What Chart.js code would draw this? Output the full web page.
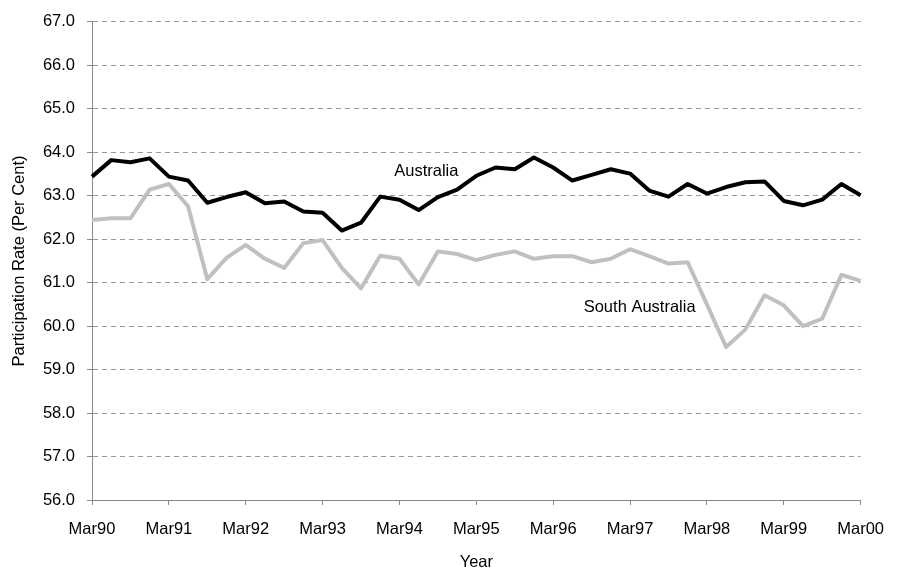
<!DOCTYPE html>
<html>
<head>
<meta charset="utf-8">
<title>Participation Rate</title>
<script src="https://cdn.jsdelivr.net/npm/chart.js@4/dist/chart.umd.min.js"></script>
<style>
  body { margin: 0; background: #fff; }
  canvas { display: block; }
</style>
</head>
<body>
<canvas id="grafica" width="899" height="572"></canvas>
<script>
// ==========================================
// DATA
// ==========================================
const quarters = [
    'Mar90', 'Jun90', 'Sep90', 'Dec90',
    'Mar91', 'Jun91', 'Sep91', 'Dec91',
    'Mar92', 'Jun92', 'Sep92', 'Dec92',
    'Mar93', 'Jun93', 'Sep93', 'Dec93',
    'Mar94', 'Jun94', 'Sep94', 'Dec94',
    'Mar95', 'Jun95', 'Sep95', 'Dec95',
    'Mar96', 'Jun96', 'Sep96', 'Dec96',
    'Mar97', 'Jun97', 'Sep97', 'Dec97',
    'Mar98', 'Jun98', 'Sep98', 'Dec98',
    'Mar99', 'Jun99', 'Sep99', 'Dec99',
    'Mar00'
];

const australia = [
    63.44, 63.82, 63.77, 63.86, 63.44, 63.35, 62.84, 62.97,
    63.08, 62.83, 62.87, 62.64, 62.61, 62.20, 62.38, 62.98,
    62.91, 62.67, 62.97, 63.14, 63.46, 63.65, 63.61, 63.88,
    63.65, 63.35, 63.48, 63.61, 63.51, 63.12, 62.98, 63.27,
    63.05, 63.20, 63.31, 63.33, 62.88, 62.78, 62.91, 63.27,
    63.01
];

const southAustralia = [
    62.44, 62.48, 62.48, 63.14, 63.27, 62.76, 61.08, 61.57,
    61.87, 61.55, 61.34, 61.91, 61.98, 61.34, 60.87, 61.62,
    61.55, 60.96, 61.72, 61.66, 61.52, 61.64, 61.72, 61.55,
    61.61, 61.61, 61.47, 61.55, 61.77, 61.61, 61.44, 61.47,
    60.50, 59.52, 59.92, 60.71, 60.48, 60.00, 60.17, 61.18,
    61.04
];

// series labels written inside the plot (category index, value)
const seriesNames = ['Australia', 'South Australia'];
const nameIndex = [17.4, 28.5];
const nameValue = [63.55, 60.43];

const yMin = 56;
const yMax = 67;

// ==========================================
// PLUGIN FOR THE IN-PLOT LABELS
// ==========================================
const seriesLabels = {
    id: 'seriesLabels',
    afterDatasetsDraw(chart) {
        const { ctx, scales: { x, y } } = chart;
        const paso = x.getPixelForValue(1) - x.getPixelForValue(0);
        ctx.save();
        ctx.font = '16.5px "Liberation Sans", Arial, sans-serif';
        ctx.fillStyle = '#000';
        ctx.textAlign = 'center';
        ctx.textBaseline = 'middle';
        seriesNames.forEach((nombre, i) => {
            const px = x.getPixelForValue(0) + paso * nameIndex[i];
            const py = y.getPixelForValue(nameValue[i]);
            ctx.fillText(nombre, px, py);
        });
        ctx.restore();
    }
};

// ==========================================
// CHART
// ==========================================
const fuente = { family: '"Liberation Sans", Arial, sans-serif', size: 16.5 };

new Chart(document.getElementById('grafica'), {
    type: 'line',
    data: {
        labels: quarters,
        datasets: [
            {
                label: 'Australia',
                data: australia,
                borderColor: '#000000',
                borderWidth: 4,
                borderJoinStyle: 'round',
                pointRadius: 0,
                tension: 0
            },
            {
                label: 'South Australia',
                data: southAustralia,
                borderColor: '#c0c0c0',
                borderWidth: 4,
                borderJoinStyle: 'round',
                pointRadius: 0,
                tension: 0
            }
        ]
    },
    options: {
        responsive: false,
        animation: false,
        layout: { padding: { top: 16, right: 35, left: 0, bottom: 0 } },
        plugins: {
            legend: { display: false },
            tooltip: { enabled: false }
        },
        scales: {
            x: {
                afterFit: (scale) => { scale.height = 72; },
                border: { display: true, color: '#888', width: 1 },
                grid: {
                    drawOnChartArea: false,
                    drawTicks: true,
                    tickLength: 5,
                    color: (c) => (c.index % 4 === 0 ? '#888' : 'rgba(0,0,0,0)'),
                    tickColor: (c) => (c.index % 4 === 0 ? '#888' : 'rgba(0,0,0,0)')
                },
                ticks: {
                    autoSkip: false,
                    maxRotation: 0,
                    padding: 15,
                    color: '#000',
                    font: fuente,
                    callback: function (val, i) { return i % 4 === 0 ? quarters[i] : ''; }
                },
                title: {
                    display: true,
                    text: 'Year',
                    color: '#000',
                    font: fuente,
                    padding: { top: 0, bottom: 0 }
                }
            },
            y: {
                min: yMin,
                max: yMax,
                afterFit: (scale) => { scale.width = 92; },
                border: { display: true, color: '#888', width: 1, dash: [5, 4] },
                grid: {
                    color: '#999',
                    lineWidth: 1,
                    tickLength: 5,
                    tickColor: '#888',
                    tickBorderDash: [1, 0]
                },
                ticks: {
                    stepSize: 1,
                    padding: 12,
                    color: '#000',
                    font: fuente,
                    callback: (v) => v.toFixed(1)
                },
                title: {
                    display: true,
                    text: 'Participation Rate (Per Cent)',
                    color: '#000',
                    font: fuente,
                    padding: { top: 10, bottom: 0 }
                }
            }
        }
    },
    plugins: [seriesLabels]
});
</script>
</body>
</html>
